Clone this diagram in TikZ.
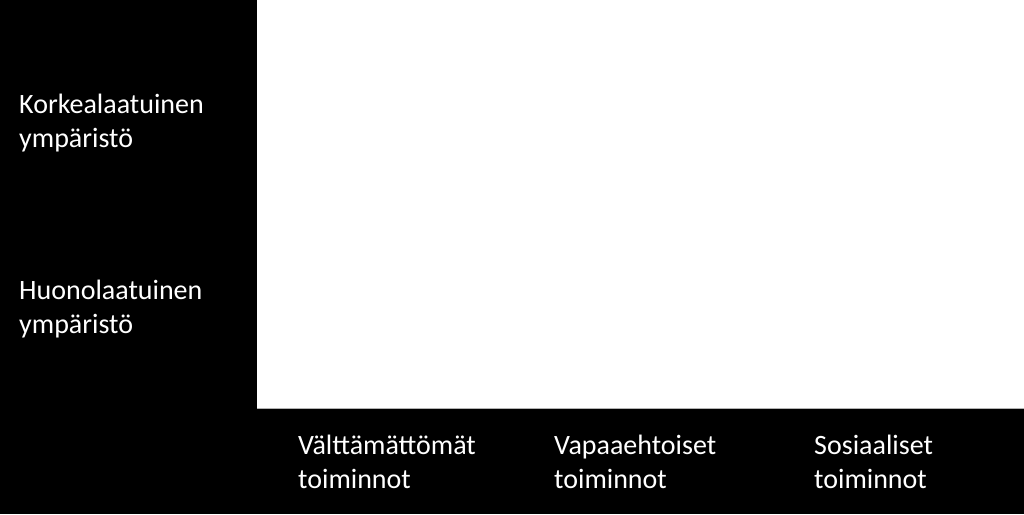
\documentclass[tikz,border=0pt]{standalone}
\usepackage{fontspec}
\setmainfont{Carlito}
\begin{document}
\begin{tikzpicture}[x=1pt, y=-1pt,
    axistext/.style={white, anchor=base west, inner sep=0pt, align=left,
      font=\fontsize{28}{34}\selectfont}]
    \useasboundingbox (0,0) rectangle (1024,514);
    \fill[black] (0,0) rectangle (1024,514);
    \fill[white] (257,0) rectangle (1024,408);
    \draw[gray!60, thin] (257,408) -- (1024,408);

    % y-akseli
    \node[axistext] (korkea) at (19,147) {Korkealaatuinen\\ympäristö};
    \node[axistext] (huono) at (19,333) {Huonolaatuinen\\ympäristö};

    % x-akseli
    \node[axistext] (valttamattomat) at (298,488) {Välttämättömät\\toiminnot};
    \node[axistext] (vapaaehtoiset) at (554,488) {Vapaaehtoiset\\toiminnot};
    \node[axistext] (sosiaaliset) at (814,488) {Sosiaaliset\\toiminnot};

\end{tikzpicture}
\end{document}
